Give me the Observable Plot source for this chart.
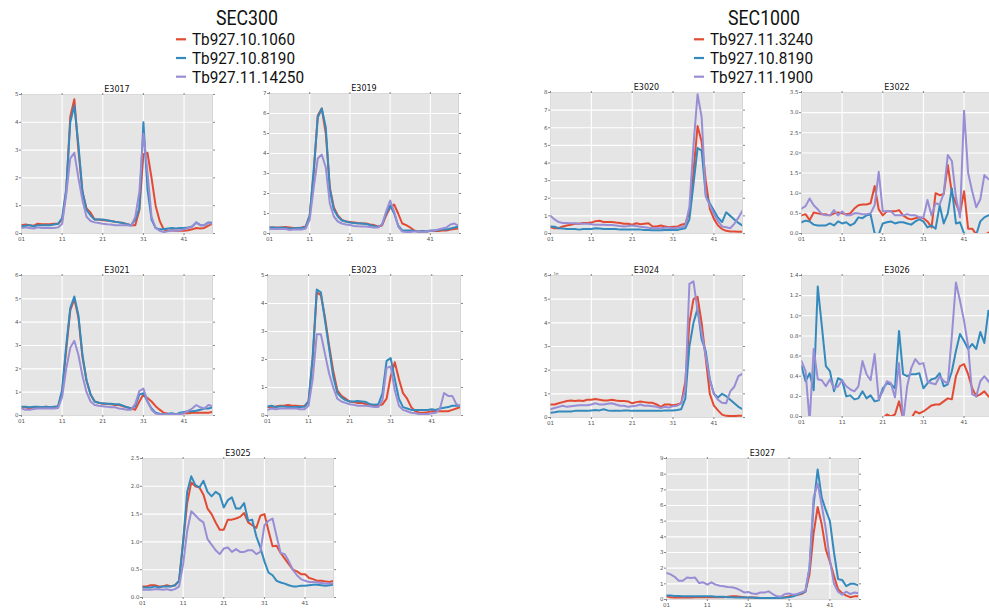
<!DOCTYPE html>
<html>
<head>
<meta charset="utf-8">
<script src="https://cdn.jsdelivr.net/npm/d3@7"></script>
<script src="https://cdn.jsdelivr.net/npm/@observablehq/plot@0.6"></script>
<style>
  html, body { margin: 0; padding: 0; background: #fff; }
  #root { position: relative; width: 989px; height: 608px; overflow: hidden; background: #fff; }
  #root svg { position: absolute; }
</style>
</head>
<body>
<div id="root"></div>
<script>
// ---------- categories / labels ----------
const fractions = [1,2,3,4,5,6,7,8,9,10,11,12,13,14,15,16,17,18,19,20,21,22,23,24,25,26,27,28,29,30,31,32,33,34,35,36,37,38,39,40,41,42,43,44,45,46,47,48];
const xTicks = [1, 11, 21, 31, 41];
const xTickLabels = ["01", "11", "21", "31", "41"];
const sec300Genes = ["Tb927.10.1060", "Tb927.10.8190", "Tb927.11.14250"];
const sec1000Genes = ["Tb927.11.3240", "Tb927.10.8190", "Tb927.11.1900"];
const panelTitles = ["E3017", "E3019", "E3021", "E3023", "E3025", "E3020", "E3022", "E3024", "E3026", "E3027"];
const yMaxima = [5, 7, 6, 5, 2.5, 8, 3.5, 6, 1.4, 9];
const yTickSteps = [1, 1, 1, 1, 0.5, 1, 0.5, 1, 0.2, 1];

// ---------- SEC300 series ----------
const e3017_red = [0.3,0.32,0.3,0.28,0.35,0.33,0.33,0.33,0.35,0.35, 0.5,1.5,4.2,4.83,3.0,1.5,0.9,0.75,0.5,0.5, 0.48,0.47,0.45,0.42,0.4,0.38,0.33,0.3,0.3,0.85, 2.85,2.9,2.0,1.0,0.45,0.15,0.1,0.12,0.1,0.1, 0.1,0.12,0.15,0.2,0.18,0.2,0.28,0.35];
const e3017_blue = [0.25,0.28,0.3,0.25,0.3,0.3,0.3,0.3,0.32,0.35, 0.55,1.6,4.0,4.6,3.2,1.5,0.85,0.65,0.5,0.5, 0.5,0.48,0.45,0.42,0.4,0.38,0.33,0.3,0.5,0.9, 4.0,1.6,0.5,0.2,0.15,0.15,0.18,0.2,0.18,0.2, 0.2,0.22,0.25,0.4,0.3,0.3,0.4,0.38];
const e3017_purple = [0.2,0.22,0.2,0.18,0.22,0.2,0.2,0.2,0.2,0.22, 0.35,1.4,2.7,2.9,2.0,1.2,0.6,0.45,0.4,0.38, 0.35,0.33,0.32,0.3,0.3,0.3,0.3,0.28,0.6,1.5, 3.6,2.2,0.6,0.2,0.1,0.05,0.08,0.12,0.1,0.12, 0.15,0.2,0.25,0.38,0.3,0.3,0.38,0.35];

const e3019_red = [0.3,0.3,0.3,0.3,0.32,0.3,0.28,0.28,0.3,0.35, 0.9,3.0,5.9,6.25,5.0,2.3,1.3,0.9,0.68,0.6, 0.58,0.55,0.52,0.5,0.5,0.45,0.42,0.35,0.4,0.9, 1.3,1.45,1.0,0.5,0.42,0.3,0.15,0.1,0.1,0.1, 0.12,0.12,0.12,0.15,0.15,0.2,0.22,0.25];
const e3019_blue = [0.3,0.3,0.28,0.3,0.28,0.25,0.25,0.28,0.28,0.32, 0.9,3.2,5.8,6.25,5.3,2.2,1.2,0.85,0.65,0.6, 0.55,0.52,0.5,0.5,0.48,0.42,0.38,0.32,0.45,1.0, 1.4,1.0,0.4,0.15,0.15,0.15,0.12,0.1,0.12,0.1, 0.15,0.15,0.18,0.2,0.2,0.25,0.3,0.35];
const e3019_purple = [0.22,0.22,0.22,0.22,0.22,0.18,0.2,0.2,0.2,0.25, 0.7,2.3,3.75,3.95,3.3,1.5,0.85,0.6,0.5,0.45, 0.42,0.38,0.36,0.35,0.35,0.32,0.3,0.3,0.45,1.1, 1.65,1.1,0.35,0.1,0.08,0.08,0.1,0.1,0.08,0.1, 0.12,0.15,0.2,0.25,0.3,0.45,0.5,0.38];

const e3021_red = [0.35,0.35,0.3,0.35,0.35,0.35,0.38,0.35,0.35,0.38, 1.0,2.8,4.5,5.0,4.2,2.5,1.5,0.9,0.6,0.55, 0.5,0.5,0.48,0.45,0.45,0.4,0.35,0.3,0.25,0.6, 0.9,0.75,0.6,0.4,0.25,0.12,0.08,0.05,0.05,0.08, 0.1,0.1,0.12,0.12,0.12,0.12,0.12,0.15];
const e3021_blue = [0.38,0.38,0.35,0.38,0.38,0.35,0.38,0.35,0.38,0.4, 1.1,3.0,4.6,5.1,4.3,2.6,1.5,0.9,0.6,0.55, 0.52,0.5,0.5,0.48,0.48,0.42,0.35,0.3,0.4,0.9, 0.95,0.6,0.3,0.12,0.08,0.05,0.08,0.1,0.05,0.12, 0.15,0.18,0.18,0.2,0.25,0.3,0.3,0.35];
const e3021_purple = [0.3,0.25,0.25,0.28,0.3,0.3,0.3,0.3,0.3,0.32, 0.8,2.0,2.9,3.2,2.6,1.7,1.0,0.6,0.45,0.42, 0.4,0.38,0.35,0.35,0.3,0.28,0.25,0.25,0.5,1.05, 1.15,0.6,0.25,0.08,0.05,0.05,0.05,0.05,0.05,0.05, 0.1,0.2,0.3,0.45,0.35,0.3,0.45,0.4];

const e3023_red = [0.3,0.3,0.32,0.35,0.35,0.38,0.35,0.35,0.33,0.33, 0.5,2.0,4.4,4.3,3.5,2.5,1.6,0.9,0.7,0.6, 0.5,0.48,0.45,0.45,0.4,0.38,0.35,0.35,0.4,0.6, 1.4,1.9,1.3,0.8,0.6,0.3,0.15,0.1,0.1,0.12, 0.15,0.15,0.15,0.15,0.15,0.2,0.25,0.3];
const e3023_blue = [0.32,0.35,0.3,0.32,0.32,0.3,0.3,0.3,0.3,0.32, 0.5,2.1,4.5,4.4,3.4,2.4,1.4,0.8,0.65,0.55, 0.5,0.5,0.52,0.5,0.48,0.4,0.38,0.4,0.8,1.95, 2.05,1.3,0.6,0.3,0.25,0.2,0.2,0.2,0.2,0.2, 0.22,0.2,0.25,0.28,0.3,0.35,0.35,0.35];
const e3023_purple = [0.2,0.25,0.22,0.25,0.25,0.25,0.25,0.25,0.22,0.22, 0.35,1.3,2.9,2.9,2.2,1.5,1.0,0.6,0.5,0.45, 0.4,0.38,0.35,0.35,0.35,0.33,0.3,0.3,0.55,1.7, 1.75,0.9,0.35,0.2,0.15,0.1,0.08,0.05,0.05,0.05, 0.08,0.1,0.25,0.8,0.7,0.7,0.4,0.35];

const e3025_red = [0.2,0.2,0.22,0.22,0.2,0.2,0.22,0.2,0.22,0.3, 1.0,1.7,2.07,2.0,1.98,1.85,1.6,1.5,1.35,1.22, 1.22,1.4,1.4,1.42,1.45,1.52,1.35,1.3,1.25,1.47, 1.5,1.2,0.92,0.93,0.8,0.7,0.6,0.5,0.47,0.42, 0.42,0.35,0.33,0.3,0.3,0.29,0.28,0.3];
const e3025_blue = [0.18,0.18,0.18,0.2,0.18,0.2,0.2,0.2,0.22,0.3, 1.0,1.9,2.18,2.02,1.98,2.1,1.9,1.82,1.9,1.85, 1.62,1.75,1.8,1.6,1.6,1.7,1.38,1.4,1.1,0.9, 0.65,0.45,0.4,0.3,0.27,0.25,0.22,0.2,0.2,0.21, 0.21,0.22,0.23,0.23,0.22,0.21,0.22,0.23];
const e3025_purple = [0.14,0.14,0.14,0.15,0.15,0.14,0.15,0.13,0.15,0.2, 0.6,1.2,1.55,1.48,1.4,1.35,1.05,0.95,0.85,0.78, 0.88,0.9,0.82,0.87,0.82,0.82,0.85,0.85,0.78,0.82, 1.3,1.38,1.42,1.1,0.8,0.78,0.65,0.5,0.4,0.33, 0.3,0.28,0.28,0.27,0.26,0.25,0.25,0.25];

// ---------- SEC1000 series ----------
const e3020_red = [0.35,0.3,0.3,0.4,0.45,0.5,0.55,0.55,0.6,0.6, 0.62,0.7,0.72,0.65,0.65,0.65,0.62,0.6,0.55,0.55, 0.5,0.58,0.52,0.55,0.58,0.4,0.4,0.45,0.4,0.35, 0.38,0.38,0.5,0.55,1.2,3.5,6.1,5.2,3.0,1.4, 0.83,0.45,0.25,0.15,0.12,0.12,0.1,0.1];
const e3020_blue = [0.4,0.38,0.3,0.28,0.25,0.25,0.25,0.22,0.25,0.25, 0.25,0.3,0.28,0.25,0.25,0.25,0.25,0.22,0.22,0.22, 0.22,0.22,0.22,0.2,0.2,0.18,0.18,0.18,0.2,0.2, 0.2,0.2,0.25,0.3,0.8,2.8,4.85,4.7,2.2,1.7, 1.3,0.9,0.65,1.2,1.0,0.8,0.6,0.45];
const e3020_purple = [1.0,0.8,0.65,0.6,0.6,0.58,0.58,0.55,0.55,0.55, 0.52,0.5,0.5,0.5,0.48,0.48,0.45,0.42,0.4,0.42, 0.45,0.42,0.38,0.35,0.32,0.3,0.3,0.3,0.32,0.32, 0.3,0.32,0.35,0.45,1.5,5.0,7.9,6.6,2.1,1.6, 1.1,0.7,0.4,0.35,0.3,0.55,0.9,1.3];

const e3022_red = [0.45,0.48,0.33,0.52,0.5,0.48,0.48,0.45,0.5,0.52, 0.5,0.48,0.5,0.62,0.7,0.72,0.72,0.75,1.18,0.6, 0.45,0.55,0.55,0.55,0.58,0.45,0.38,0.35,0.38,0.4, 0.38,0.3,0.15,1.0,0.95,0.98,1.7,1.0,0.75,0.5, 1.05,0.12,0.12,-0.02,-0.05,-0.05,0.02,0.05];
const e3022_blue = [0.28,0.32,0.3,0.22,0.2,0.2,0.2,0.25,0.2,0.3, 0.25,0.28,0.2,0.25,0.4,0.38,0.45,0.47,0.0,-0.02, 0.25,0.28,0.3,0.25,0.28,0.28,0.25,0.22,0.3,0.35, 0.3,0.15,0.2,0.12,0.7,0.25,0.5,1.12,0.25,0.28, 0.0,-0.03,-0.05,-0.03,0.3,0.4,0.45,0.45];
const e3022_purple = [0.62,0.68,0.87,0.7,0.6,0.48,0.45,0.45,0.58,0.45, 0.55,0.45,0.45,0.5,0.5,0.48,0.48,0.5,0.7,1.53, 0.55,0.55,0.55,0.45,0.45,0.45,0.48,0.45,0.45,0.4, 0.4,0.83,0.45,0.75,0.72,1.0,1.95,1.8,0.9,0.4, 3.05,1.5,1.05,0.65,0.85,1.45,1.35,1.3];

const e3024_red = [0.55,0.55,0.6,0.65,0.7,0.72,0.7,0.72,0.7,0.75, 0.75,0.78,0.75,0.72,0.72,0.75,0.72,0.7,0.7,0.68, 0.6,0.65,0.68,0.65,0.62,0.62,0.55,0.45,0.55,0.55, 0.52,0.55,0.6,1.5,4.0,5.0,5.1,4.0,2.5,1.0, 0.5,0.3,0.12,0.07,0.06,0.06,0.07,0.08];
const e3024_blue = [0.2,0.22,0.25,0.25,0.25,0.25,0.28,0.28,0.28,0.28, 0.3,0.32,0.3,0.35,0.3,0.28,0.28,0.28,0.3,0.3, 0.28,0.28,0.28,0.28,0.28,0.28,0.28,0.28,0.3,0.3, 0.3,0.32,0.35,0.8,3.0,4.0,4.6,3.3,2.8,1.6, 1.0,0.85,1.0,0.9,0.75,0.6,0.45,0.35];
const e3024_purple = [0.35,0.4,0.45,0.5,0.45,0.48,0.5,0.52,0.52,0.52, 0.55,0.6,0.55,0.55,0.58,0.6,0.55,0.5,0.5,0.45, 0.48,0.5,0.55,0.5,0.5,0.48,0.45,0.4,0.45,0.42, 0.48,0.5,0.6,1.2,5.65,5.75,4.5,3.6,2.6,1.6, 1.0,0.75,0.62,0.6,1.1,1.3,1.75,1.85];

const e3026_red = [-0.05,-0.05,-0.05,-0.05,-0.05,-0.05,-0.05,-0.05,-0.05,-0.05, -0.05,-0.05,-0.05,-0.05,-0.05,-0.05,-0.05,-0.05,-0.05,-0.05, -0.02,0.02,0.0,0.02,0.15,-0.02,-0.05,-0.02,0.05,0.03, 0.05,0.08,0.11,0.12,0.12,0.15,0.18,0.17,0.4,0.5, 0.52,0.42,0.28,0.2,0.22,0.25,0.2,0.18];
const e3026_blue = [0.5,0.35,0.43,0.26,1.29,0.9,0.5,0.45,0.25,0.38, 0.36,0.2,0.21,0.17,0.18,0.25,0.18,0.21,0.15,0.16, 0.28,0.33,0.32,0.28,0.85,0.42,0.4,0.42,0.42,0.43, 0.28,0.33,0.37,0.38,0.43,0.3,0.32,0.45,0.65,0.82, 0.75,0.67,0.72,0.67,0.84,0.73,1.05,1.0];
const e3026_purple = [0.55,0.45,-0.05,0.67,0.37,0.36,0.3,0.37,0.28,0.3, 0.36,0.3,0.27,0.25,0.3,0.55,0.42,0.36,0.62,0.17, 0.25,0.35,0.33,0.19,0.53,-0.05,0.3,0.48,0.57,0.52, 0.53,0.35,0.33,0.32,0.4,0.35,0.33,0.8,1.33,1.15, 0.95,0.7,0.22,0.2,0.35,0.4,0.35,0.3];

const e3027_red = [0.2,0.15,0.12,0.12,0.12,0.12,0.12,0.15,0.15,0.15, 0.15,0.15,0.15,0.15,0.15,0.18,0.2,0.2,0.18,0.15, 0.12,0.12,0.12,0.1,0.1,0.1,0.1,0.1,0.12,0.15, 0.2,0.25,0.3,0.35,0.5,1.6,4.2,5.9,4.8,3.2, 2.4,1.5,0.65,0.4,0.25,0.15,0.2,0.2];
const e3027_blue = [0.25,0.25,0.22,0.22,0.2,0.2,0.2,0.2,0.2,0.2, 0.2,0.2,0.18,0.18,0.18,0.15,0.15,0.12,0.12,0.12, 0.12,0.12,0.1,0.1,0.1,0.1,0.1,0.1,0.1,0.12, 0.15,0.2,0.3,0.4,0.5,2.0,6.0,8.3,6.5,5.7, 5.0,3.0,1.3,1.25,0.85,1.0,1.0,0.9];
const e3027_purple = [1.7,1.6,1.45,1.2,1.2,1.4,1.38,1.4,1.05,1.1, 0.95,1.1,0.95,0.88,0.85,0.8,0.78,0.72,0.6,0.45, 0.48,0.38,0.35,0.45,0.45,0.52,0.35,0.2,0.18,0.35, 0.38,0.3,0.35,0.45,0.55,2.0,6.5,7.4,6.0,4.5, 2.5,1.0,0.5,0.3,0.5,0.35,0.45,0.4];

// ---------- styling / layout ----------
const lineColors = ["#E24A33", "#348ABD", "#988ED5"];
const panelSeries = [
  [e3017_red, e3017_blue, e3017_purple],
  [e3019_red, e3019_blue, e3019_purple],
  [e3021_red, e3021_blue, e3021_purple],
  [e3023_red, e3023_blue, e3023_purple],
  [e3025_red, e3025_blue, e3025_purple],
  [e3020_red, e3020_blue, e3020_purple],
  [e3022_red, e3022_blue, e3022_purple],
  [e3024_red, e3024_blue, e3024_purple],
  [e3026_red, e3026_blue, e3026_purple],
  [e3027_red, e3027_blue, e3027_purple]
];
const panelGenes = [sec300Genes, sec300Genes, sec300Genes, sec300Genes, sec300Genes,
                    sec1000Genes, sec1000Genes, sec1000Genes, sec1000Genes, sec1000Genes];
// frame boxes: [left, top, width, height]
const panelBoxes = [
  [21, 94, 191, 139], [269, 93, 189, 140], [21, 275, 191, 140], [267, 275, 193, 140], [142, 458, 191, 139],
  [550, 92, 192, 141], [801, 92, 191, 141], [550, 275, 192, 142], [801, 275, 191, 141], [666, 458, 192, 141]
];

const root = document.getElementById("root");
const warn = [];

panelTitles.forEach((title, p) => {
  const [left, top, w, h] = panelBoxes[p];
  const mL = 24, mR = 6, mT = 14, mB = 12;
  const rows = [];
  panelSeries[p].forEach((vals, k) => {
    if (vals.length !== fractions.length) warn.push(title + ":" + k + "=" + vals.length);
    vals.forEach((v, i) => rows.push({fraction: fractions[i], value: v, gene: panelGenes[p][k], k}));
  });
  const step = yTickSteps[p];
  const yTicks = d3.range(0, Math.round(yMaxima[p] / step) + 1).map(i => +(i * step).toFixed(2));
  const fmt = step < 1 ? d3.format(".1f") : d3.format("d");
  const marks = [
    Plot.frame({fill: "#E5E5E5"}),
    Plot.gridX(xTicks, {stroke: "#ffffff", strokeOpacity: 1, strokeWidth: 1.1}),
    Plot.gridY(yTicks, {stroke: "#ffffff", strokeOpacity: 1, strokeWidth: 1.1}),
    ...[0, 1, 2].map(k => Plot.line(rows.filter(r => r.k === k), {
      x: "fraction", y: "value", stroke: lineColors[k], strokeWidth: 2, clip: true
    })),
    Plot.frame({stroke: "#c4c4c4", strokeWidth: 0.6}),
    Plot.axisX(xTicks, {anchor: "bottom", tickSize: 2, tickPadding: 1.5, label: null,
      tickFormat: d => xTickLabels[xTicks.indexOf(d)], stroke: "#888"}),
    Plot.axisX(xTicks, {anchor: "top", tickSize: 2, label: null, tickFormat: () => "", stroke: "#888"}),
    Plot.axisY(yTicks, {anchor: "left", tickSize: 2, tickPadding: 1, label: null, tickFormat: fmt, stroke: "#888"}),
    Plot.axisY(yTicks, {anchor: "right", tickSize: 2, label: null, tickFormat: () => "", stroke: "#888"}),
    Plot.text([title], {frameAnchor: "top", dy: -2.5, lineAnchor: "bottom", fontSize: 8, fill: "#111"})
  ];
  if (title === "E3024") {
    marks.push(Plot.text(["1e"], {frameAnchor: "top-left", dx: 3, dy: -1, lineAnchor: "bottom", textAnchor: "start", fontSize: 4, fill: "#666"}));
  }
  const svg = Plot.plot({
    width: w + mL + mR, height: h + mT + mB,
    marginLeft: mL, marginRight: mR, marginTop: mT, marginBottom: mB,
    style: {fontFamily: "DejaVu Sans", fontSize: "5.5px", color: "#555", background: "transparent", overflow: "visible"},
    x: {domain: [1, 48]},
    y: {domain: [0, yMaxima[p]]},
    marks
  });
  svg.style.position = "absolute";
  svg.style.left = (left - mL) + "px";
  svg.style.top = (top - mT) + "px";
  root.appendChild(svg);
});

// ---------- legends ----------
const legendTitles = ["SEC300", "SEC1000"];
const legendGeneLists = [sec300Genes, sec1000Genes];
const legendLayout = [
  {cx: 247, titleLen: 62, swX: 176, textX: 192, lens: [103, 103, 112]},
  {cx: 764, titleLen: 72, swX: 694, textX: 710, lens: [103, 103, 103]}
];
const leg = d3.select(root).append("svg")
  .attr("width", 989).attr("height", 92)
  .style("left", "0px").style("top", "0px");
legendTitles.forEach((t, g) => {
  const L = legendLayout[g];
  leg.append("text").text(t)
    .attr("x", L.cx).attr("y", 25).attr("text-anchor", "middle")
    .attr("font-family", "Roboto").attr("font-size", 20).attr("fill", "#111")
    .attr("textLength", L.titleLen).attr("lengthAdjust", "spacingAndGlyphs")
    .attr("x", L.cx - L.titleLen / 2).attr("text-anchor", "start");
  legendGeneLists[g].forEach((gene, k) => {
    const base = 45.3 + k * 18.7;
    leg.append("line")
      .attr("x1", L.swX).attr("x2", L.swX + 10)
      .attr("y1", base - 6).attr("y2", base - 6)
      .attr("stroke", lineColors[k]).attr("stroke-width", 2.2);
    leg.append("text").text(gene)
      .attr("x", L.textX).attr("y", base)
      .attr("font-family", "Roboto").attr("font-size", 16).attr("fill", "#111")
      .attr("textLength", L.lens[k]).attr("lengthAdjust", "spacingAndGlyphs");
  });
});

if (warn.length) {
  const d = document.createElement("div");
  d.style.cssText = "position:absolute;left:380px;top:520px;color:red;font:10px sans-serif";
  d.textContent = "LEN " + warn.join(" ");
  root.appendChild(d);
}
</script>
</body>
</html>
